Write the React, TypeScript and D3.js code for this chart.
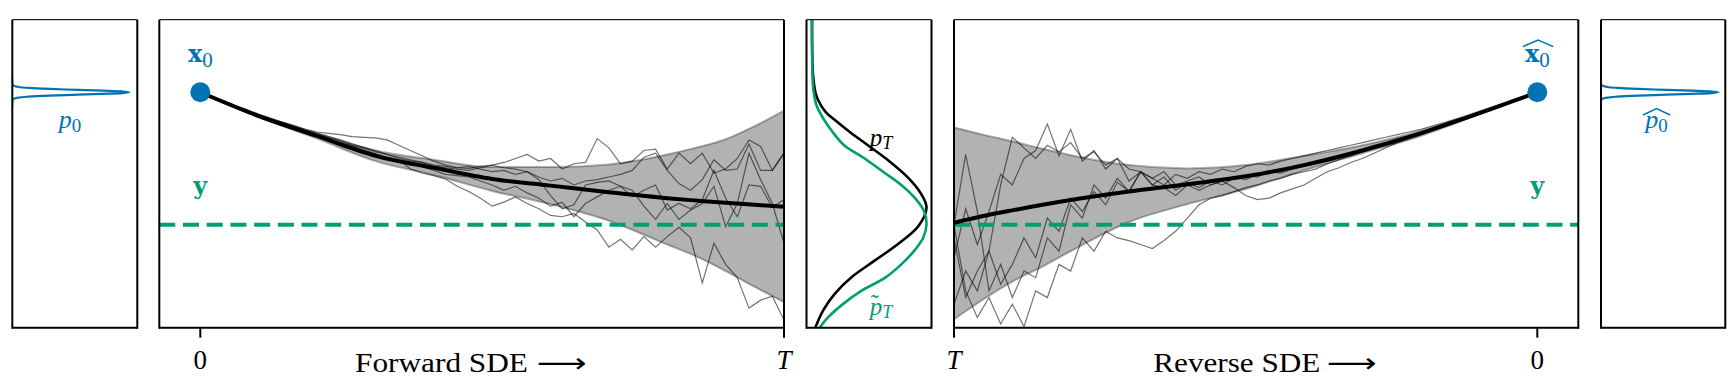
import React from "react";
import * as d3 from "d3";

// state axis shared by all five panels: x0 sits at 1, the observation y at 0
const Y_MIN = -0.778;
const Y_MAX = 1.548;
const X0 = 1.0;
const Y_OBS = 0.0;

// forward SDE: mean and +-2 std band at these times (0 .. T)
const fwdBandT = [0, 0.1, 0.2, 0.3, 0.4, 0.5, 0.6, 0.7, 0.8, 0.85, 0.9, 0.95, 1];
const fwdMean = [1, 0.82, 0.67, 0.52, 0.43, 0.345, 0.295, 0.245, 0.2, 0.182, 0.165, 0.15, 0.136];
const fwdUpper = [1, 0.828, 0.69, 0.56, 0.49, 0.435, 0.435, 0.455, 0.53, 0.582, 0.645, 0.745, 0.861];
const fwdLower = [1, 0.812, 0.65, 0.48, 0.375, 0.255, 0.155, 0.03, -0.15, -0.24, -0.35, -0.47, -0.585];

// forward sample paths, 51 evenly spaced steps from 0 to T
const fwdPathA = [1.0, 0.97, 0.935, 0.9, 0.86, 0.83, 0.8, 0.775, 0.75, 0.72, 0.7, 0.69, 0.68, 0.665, 0.66, 0.655, 0.64, 0.6, 0.56, 0.52, 0.48, 0.45, 0.43, 0.425, 0.44, 0.45, 0.47, 0.5, 0.53, 0.48, 0.5, 0.42, 0.46, 0.47, 0.65, 0.58, 0.46, 0.48, 0.56, 0.57, 0.42, 0.54, 0.46, 0.54, 0.39, 0.42, 0.5, 0.64, 0.59, 0.41, 0.54];
const fwdPathB = [1.0, 0.96, 0.92, 0.885, 0.85, 0.815, 0.785, 0.755, 0.725, 0.7, 0.67, 0.645, 0.615, 0.59, 0.56, 0.535, 0.51, 0.49, 0.42, 0.39, 0.37, 0.345, 0.29, 0.25, 0.2, 0.14, 0.17, 0.21, 0.16, 0.12, 0.07, 0.06, 0.085, 0.02, -0.04, -0.17, -0.11, -0.19, -0.09, -0.17, -0.09, -0.02, -0.1, -0.44, -0.14, -0.3, -0.4, -0.63, -0.57, -0.54, -0.72];
const fwdPathC = [1.0, 0.965, 0.93, 0.89, 0.86, 0.825, 0.795, 0.765, 0.735, 0.71, 0.68, 0.655, 0.63, 0.6, 0.58, 0.55, 0.53, 0.5, 0.48, 0.47, 0.44, 0.43, 0.42, 0.41, 0.43, 0.45, 0.43, 0.42, 0.4, 0.34, 0.22, 0.12, 0.15, 0.3, 0.32, 0.33, 0.29, 0.21, 0.26, 0.3, 0.11, 0.16, 0.12, 0.19, 0.41, 0.2, 0.06, 0.3, 0.29, 0.13, 0.19];
const fwdPathD = [1.0, 0.962, 0.925, 0.89, 0.855, 0.82, 0.79, 0.76, 0.73, 0.7, 0.67, 0.645, 0.62, 0.595, 0.565, 0.535, 0.5, 0.47, 0.45, 0.44, 0.41, 0.38, 0.37, 0.36, 0.33, 0.3, 0.26, 0.29, 0.24, 0.2, 0.14, 0.17, 0.06, 0.16, 0.21, 0.26, 0.29, 0.26, 0.14, 0.04, 0.16, 0.04, 0.11, 0.16, 0.29, -0.015, 0.16, 0.54, 0.34, 0.16, -0.14];
const fwdPathE = [1.0, 0.968, 0.935, 0.9, 0.87, 0.835, 0.805, 0.775, 0.745, 0.715, 0.69, 0.665, 0.64, 0.61, 0.585, 0.56, 0.53, 0.51, 0.49, 0.47, 0.45, 0.44, 0.43, 0.44, 0.42, 0.4, 0.41, 0.38, 0.4, 0.36, 0.33, 0.35, 0.3, 0.33, 0.34, 0.36, 0.38, 0.41, 0.51, 0.54, 0.41, 0.31, 0.26, 0.34, 0.49, 0.41, 0.42, 0.61, 0.41, 0.41, 0.54];

// reverse SDE, progress from T (0) to 0 (1)
const revMeanS = [0, 0.05, 0.1, 0.2, 0.3, 0.4, 0.5, 0.6, 0.7, 0.8, 0.9, 0.95, 1];
const revMean = [0.015, 0.065, 0.108, 0.186, 0.25, 0.305, 0.365, 0.45, 0.56, 0.69, 0.84, 0.92, 1.0];
const revBandS = [0, 0.05, 0.1, 0.15, 0.2, 0.3, 0.4, 0.5, 0.6, 0.7, 0.8, 0.9, 1];
const revUpper = [0.735, 0.68, 0.63, 0.575, 0.525, 0.45, 0.425, 0.45, 0.52, 0.6, 0.71, 0.855, 1.0];
const revLower = [-0.715, -0.565, -0.43, -0.32, -0.2, 0.02, 0.155, 0.27, 0.41, 0.54, 0.67, 0.835, 1.0];

const revPath1 = [-0.25, 0.12, -0.15, 0.1, 0.38, 0.3, 0.5, 0.56, 0.76, 0.52, 0.72, 0.48, 0.56, 0.42, 0.5, 0.33, 0.4, 0.3, 0.36, 0.26, 0.32, 0.28, 0.33, 0.3, 0.35, 0.37, 0.36, 0.4, 0.39, 0.42, 0.44, 0.46, 0.48, 0.5, 0.53, 0.56, 0.58, 0.61, 0.64, 0.665, 0.69, 0.72, 0.75, 0.78, 0.81, 0.84, 0.87, 0.9, 0.935, 0.965, 1.0];
const revPath2 = [-0.1, -0.55, -0.35, -0.2, 0.3, 0.66, 0.58, 0.5, 0.6, 0.55, 0.62, 0.5, 0.55, 0.45, 0.5, 0.42, 0.4, 0.35, 0.4, 0.3, 0.33, 0.36, 0.3, 0.33, 0.36, 0.34, 0.38, 0.41, 0.4, 0.43, 0.45, 0.47, 0.5, 0.52, 0.54, 0.57, 0.6, 0.62, 0.65, 0.67, 0.7, 0.73, 0.76, 0.79, 0.82, 0.85, 0.88, 0.91, 0.94, 0.97, 1.0];
const revPath3 = [0.0, -0.5, -0.7, -0.55, -0.75, -0.6, -0.77, -0.5, -0.55, -0.3, -0.35, -0.1, -0.2, -0.05, -0.1, -0.12, -0.15, -0.18, -0.12, -0.05, 0.05, 0.15, 0.2, 0.22, 0.25, 0.28, 0.3, 0.33, 0.35, 0.38, 0.4, 0.42, 0.46, 0.49, 0.52, 0.55, 0.58, 0.61, 0.63, 0.66, 0.69, 0.72, 0.75, 0.78, 0.81, 0.84, 0.87, 0.9, 0.93, 0.965, 1.0];
const revPath4 = [0.0, 0.53, 0.1, -0.5, -0.3, -0.55, -0.35, -0.4, -0.1, -0.2, 0.15, 0.05, 0.3, 0.2, 0.35, 0.25, 0.4, 0.3, 0.28, 0.22, 0.3, 0.26, 0.3, 0.33, 0.28, 0.22, 0.19, 0.2, 0.24, 0.27, 0.3, 0.35, 0.4, 0.43, 0.47, 0.5, 0.54, 0.58, 0.62, 0.65, 0.68, 0.72, 0.75, 0.78, 0.81, 0.84, 0.87, 0.9, 0.93, 0.965, 1.0];
const revPath5 = [-0.6, -0.35, -0.5, -0.2, -0.45, -0.3, -0.1, -0.25, 0.05, -0.05, 0.2, 0.1, 0.25, 0.15, 0.32, 0.25, 0.4, 0.35, 0.3, 0.38, 0.35, 0.4, 0.38, 0.42, 0.4, 0.44, 0.46, 0.45, 0.48, 0.5, 0.52, 0.54, 0.56, 0.58, 0.6, 0.62, 0.64, 0.66, 0.68, 0.7, 0.72, 0.745, 0.77, 0.795, 0.82, 0.85, 0.88, 0.91, 0.94, 0.97, 1.0];

// densities (scaled to peak 1) against the state axis
const p0Y = [0.9, 0.94, 0.95, 0.96, 0.967, 0.975, 0.982, 0.988, 0.994, 1.0, 1.006, 1.012, 1.018, 1.025, 1.033, 1.04, 1.05, 1.06, 1.1];
const p0Density = [0, 0.0015, 0.011, 0.055, 0.14, 0.32, 0.56, 0.77, 0.94, 1, 0.94, 0.77, 0.56, 0.32, 0.14, 0.055, 0.011, 0.0015, 0];
const p0HatDensity = [0, 0.0015, 0.011, 0.055, 0.14, 0.32, 0.56, 0.77, 0.94, 1, 0.94, 0.77, 0.56, 0.32, 0.14, 0.055, 0.011, 0.0015, 0];

const pTY = [-0.78, -0.644, -0.52, -0.393, -0.27, -0.14, -0.01, 0.13, 0.237, 0.363, 0.49, 0.611, 0.7, 0.79, 0.85, 0.94, 1.0, 1.12, 1.3, 1.55];
const pTDensity = [0.028, 0.1, 0.2, 0.35, 0.55, 0.76, 0.93, 1.0, 0.95, 0.83, 0.66, 0.47, 0.33, 0.2, 0.12, 0.054, 0.03, 0.01, 0.002, 0];
const pTildeY = [-0.78, -0.7, -0.6, -0.5, -0.4, -0.3, -0.2, -0.1, 0, 0.1, 0.2, 0.3, 0.4, 0.5, 0.6, 0.7, 0.8, 0.9, 1.0, 1.1, 1.2, 1.55];
const pTildeDensity = [0.065, 0.14, 0.27, 0.43, 0.64, 0.78, 0.89, 0.97, 1.0, 0.98, 0.9, 0.78, 0.62, 0.46, 0.28, 0.18, 0.1, 0.04, 0.015, 0.005, 0.002, 0];

const BLUE = "#0173b2";
const GREEN = "#029e73";
const SERIF = "'Liberation Serif', 'DejaVu Serif', serif";
const BOLD = "'DejaVu Serif', serif";

const TOP = 19.7;
const BOTTOM = 327.7;
const panels = [
  { x0: 12.3, x1: 137.3 },
  { x0: 159.3, x1: 784 },
  { x0: 806.5, x1: 931.5 },
  { x0: 954, x1: 1578.3 },
  { x0: 1601, x1: 1725.3 },
];

const App = () => {
  const y = d3.scaleLinear().domain([Y_MIN, Y_MAX]).range([BOTTOM, TOP]);
  const tF = d3.scaleLinear().domain([0, 1]).range([200.3, 784]);
  const tR = d3.scaleLinear().domain([0, 1]).range([954, 1537.3]);
  const dL = d3.scaleLinear().domain([0, 1]).range([12.3, 129.3]);
  const dM = d3.scaleLinear().domain([0, 1]).range([812, 926.5]);
  const dR = d3.scaleLinear().domain([0, 1]).range([1601, 1718.3]);

  const walk = (xs: d3.ScaleLinear<number, number>, vals: number[]) =>
    d3
      .line<number>()
      .x((_, i) => xs(i / (vals.length - 1)))
      .y((v) => y(v))(vals) || "";

  const band = (xs: d3.ScaleLinear<number, number>, ts: number[], lo: number[], hi: number[]) =>
    d3
      .area<number>()
      .x((i) => xs(ts[i]))
      .y0((i) => y(lo[i]))
      .y1((i) => y(hi[i]))
      .curve(d3.curveMonotoneX)(ts.map((_, i) => i)) || "";

  const smooth = (xs: d3.ScaleLinear<number, number>, ts: number[], vs: number[]) =>
    d3
      .line<number>()
      .x((i) => xs(ts[i]))
      .y((i) => y(vs[i]))
      .curve(d3.curveMonotoneX)(ts.map((_, i) => i)) || "";

  const density = (ds: d3.ScaleLinear<number, number>, ys: number[], dens: number[]) =>
    d3
      .line<number>()
      .x((i) => ds(dens[i]))
      .y((i) => y(ys[i]))
      .curve(d3.curveCatmullRom.alpha(0.5))(ys.map((_, i) => i)) || "";

  const fwdPaths = [fwdPathA, fwdPathB, fwdPathC, fwdPathD, fwdPathE];
  const revPaths = [revPath1, revPath2, revPath3, revPath4, revPath5];

  const hat = (xa: number, xb: number, yb: number, yt: number) =>
    `M${xa},${yb} L${(xa + xb) / 2},${yt} L${xb},${yb}`;

  return (
    <svg
      width={1736}
      height={386}
      style={{ position: "absolute", left: 0, top: 0, background: "#fff" }}
    >
      <defs>
        {panels.map((p, i) => (
          <clipPath key={i} id={`clip${i}`}>
            <rect x={p.x0} y={TOP} width={p.x1 - p.x0} height={BOTTOM - TOP} />
          </clipPath>
        ))}
      </defs>

      {/* p0 */}
      <g clipPath="url(#clip0)">
        <path d={density(dL, p0Y, p0Density)} fill="none" stroke={BLUE} strokeWidth={2.2} />
      </g>

      {/* forward SDE */}
      <g clipPath="url(#clip1)">
        <path d={band(tF, fwdBandT, fwdLower, fwdUpper)} fill="#000" fillOpacity={0.3} />
        <path d={smooth(tF, fwdBandT, fwdUpper)} fill="none" stroke="#000" strokeOpacity={0.3} strokeWidth={2} />
        <path d={smooth(tF, fwdBandT, fwdLower)} fill="none" stroke="#000" strokeOpacity={0.3} strokeWidth={2} />
        {fwdPaths.map((p, i) => (
          <path key={i} d={walk(tF, p)} fill="none" stroke="#000" strokeOpacity={0.55} strokeWidth={1.2} />
        ))}
        <line x1={panels[1].x0} x2={panels[1].x1} y1={y(Y_OBS)} y2={y(Y_OBS)} stroke={GREEN} strokeWidth={4} strokeDasharray="16 7.7" />
        <path d={smooth(tF, fwdBandT, fwdMean)} fill="none" stroke="#000" strokeWidth={4} />
        <circle cx={tF(0)} cy={y(X0)} r={10} fill={BLUE} />
      </g>

      {/* p_T and p~_T */}
      <g clipPath="url(#clip2)">
        <path d={density(dM, pTY, pTDensity)} fill="none" stroke="#000" strokeWidth={2.6} />
        <path d={density(dM, pTildeY, pTildeDensity)} fill="none" stroke={GREEN} strokeWidth={2.6} />
      </g>

      {/* reverse SDE */}
      <g clipPath="url(#clip3)">
        <path d={band(tR, revBandS, revLower, revUpper)} fill="#000" fillOpacity={0.3} />
        <path d={smooth(tR, revBandS, revUpper)} fill="none" stroke="#000" strokeOpacity={0.3} strokeWidth={2} />
        <path d={smooth(tR, revBandS, revLower)} fill="none" stroke="#000" strokeOpacity={0.3} strokeWidth={2} />
        {revPaths.map((p, i) => (
          <path key={i} d={walk(tR, p)} fill="none" stroke="#000" strokeOpacity={0.55} strokeWidth={1.2} />
        ))}
        <line x1={panels[3].x0} x2={panels[3].x1} y1={y(Y_OBS)} y2={y(Y_OBS)} stroke={GREEN} strokeWidth={4} strokeDasharray="16 7.7" />
        <path d={smooth(tR, revMeanS, revMean)} fill="none" stroke="#000" strokeWidth={4} />
        <circle cx={tR(1)} cy={y(X0)} r={10} fill={BLUE} />
      </g>

      {/* p0 hat */}
      <g clipPath="url(#clip4)">
        <path d={density(dR, p0Y, p0HatDensity)} fill="none" stroke={BLUE} strokeWidth={2.2} />
      </g>

      {/* frames */}
      {panels.map((p, i) => (
        <g key={i}>
          <line x1={p.x0} x2={p.x1} y1={TOP} y2={TOP} stroke="#222" strokeWidth={1.3} />
          <line x1={p.x0} x2={p.x1} y1={BOTTOM} y2={BOTTOM} stroke="#000" strokeWidth={2} />
          <line x1={p.x0} x2={p.x0} y1={TOP} y2={BOTTOM + 1} stroke="#000" strokeWidth={2} />
          <line x1={p.x1} x2={p.x1} y1={TOP} y2={BOTTOM + 1} stroke="#000" strokeWidth={2} />
        </g>
      ))}

      {/* ticks */}
      {[tF(0), tF(1), tR(0), tR(1)].map((x, i) => (
        <line key={i} x1={x} x2={x} y1={BOTTOM} y2={BOTTOM + 10} stroke="#000" strokeWidth={2} />
      ))}
      <text x={tF(0)} y={369} textAnchor="middle" fontFamily={SERIF} fontSize={27}>0</text>
      <text x={tF(1)} y={369} textAnchor="middle" fontFamily={SERIF} fontSize={27} fontStyle="italic">T</text>
      <text x={tR(0)} y={369} textAnchor="middle" fontFamily={SERIF} fontSize={27} fontStyle="italic">T</text>
      <text x={tR(1)} y={369} textAnchor="middle" fontFamily={SERIF} fontSize={27}>0</text>

      {/* axis titles */}
      <text x={355} y={372} fontFamily={SERIF} fontSize={27} textLength={173} lengthAdjust="spacingAndGlyphs">Forward SDE</text>
      <text x={537} y={372} fontFamily="'DejaVu Sans', sans-serif" fontSize={27} textLength={50} lengthAdjust="spacingAndGlyphs">⟶</text>
      <text x={1153.3} y={372} fontFamily={SERIF} fontSize={27} textLength={167} lengthAdjust="spacingAndGlyphs">Reverse SDE</text>
      <text x={1327} y={372} fontFamily="'DejaVu Sans', sans-serif" fontSize={27} textLength={50} lengthAdjust="spacingAndGlyphs">⟶</text>

      {/* annotations */}
      <text x={tF(0)} y={62} textAnchor="middle" fill={BLUE}>
        <tspan fontFamily={BOLD} fontWeight="bold" fontSize={24}>x</tspan>
        <tspan fontFamily={SERIF} fontSize={21} dy={5}>0</tspan>
      </text>
      <text x={tF(0)} y={194} textAnchor="middle" fill={GREEN} fontFamily={BOLD} fontWeight="bold" fontSize={24}>y</text>

      <text x={tR(1)} y={62} textAnchor="middle" fill={BLUE}>
        <tspan fontFamily={BOLD} fontWeight="bold" fontSize={24}>x</tspan>
        <tspan fontFamily={SERIF} fontSize={21} dy={5}>0</tspan>
      </text>
      <path d={hat(1522.7, 1553.3, 46.7, 40)} fill="none" stroke={BLUE} strokeWidth={1.4} />
      <text x={tR(1)} y={194} textAnchor="middle" fill={GREEN} fontFamily={BOLD} fontWeight="bold" fontSize={24}>y</text>

      <text x={70} y={127.5} textAnchor="middle" fill={BLUE} fontFamily={SERIF}>
        <tspan fontStyle="italic" fontSize={26}>p</tspan>
        <tspan fontSize={19} dy={4}>0</tspan>
      </text>
      <text x={1656.5} y={127.5} textAnchor="middle" fill={BLUE} fontFamily={SERIF}>
        <tspan fontStyle="italic" fontSize={26}>p</tspan>
        <tspan fontSize={19} dy={4}>0</tspan>
      </text>
      <path d={hat(1643, 1670, 115, 108.5)} fill="none" stroke={BLUE} strokeWidth={1.4} />

      <text x={881} y={145.5} textAnchor="middle" fill="#000" fontFamily={SERIF} fontStyle="italic">
        <tspan fontSize={25}>p</tspan>
        <tspan fontSize={18} dy={3}>T</tspan>
      </text>
      <text x={881} y={315} textAnchor="middle" fill={GREEN} fontFamily={SERIF} fontStyle="italic">
        <tspan fontSize={25}>p</tspan>
        <tspan fontSize={18} dy={3}>T</tspan>
      </text>
      <text x={875} y={312} textAnchor="middle" fill={GREEN} fontFamily={SERIF} fontSize={25}>˜</text>
    </svg>
  );
};

export default App;
